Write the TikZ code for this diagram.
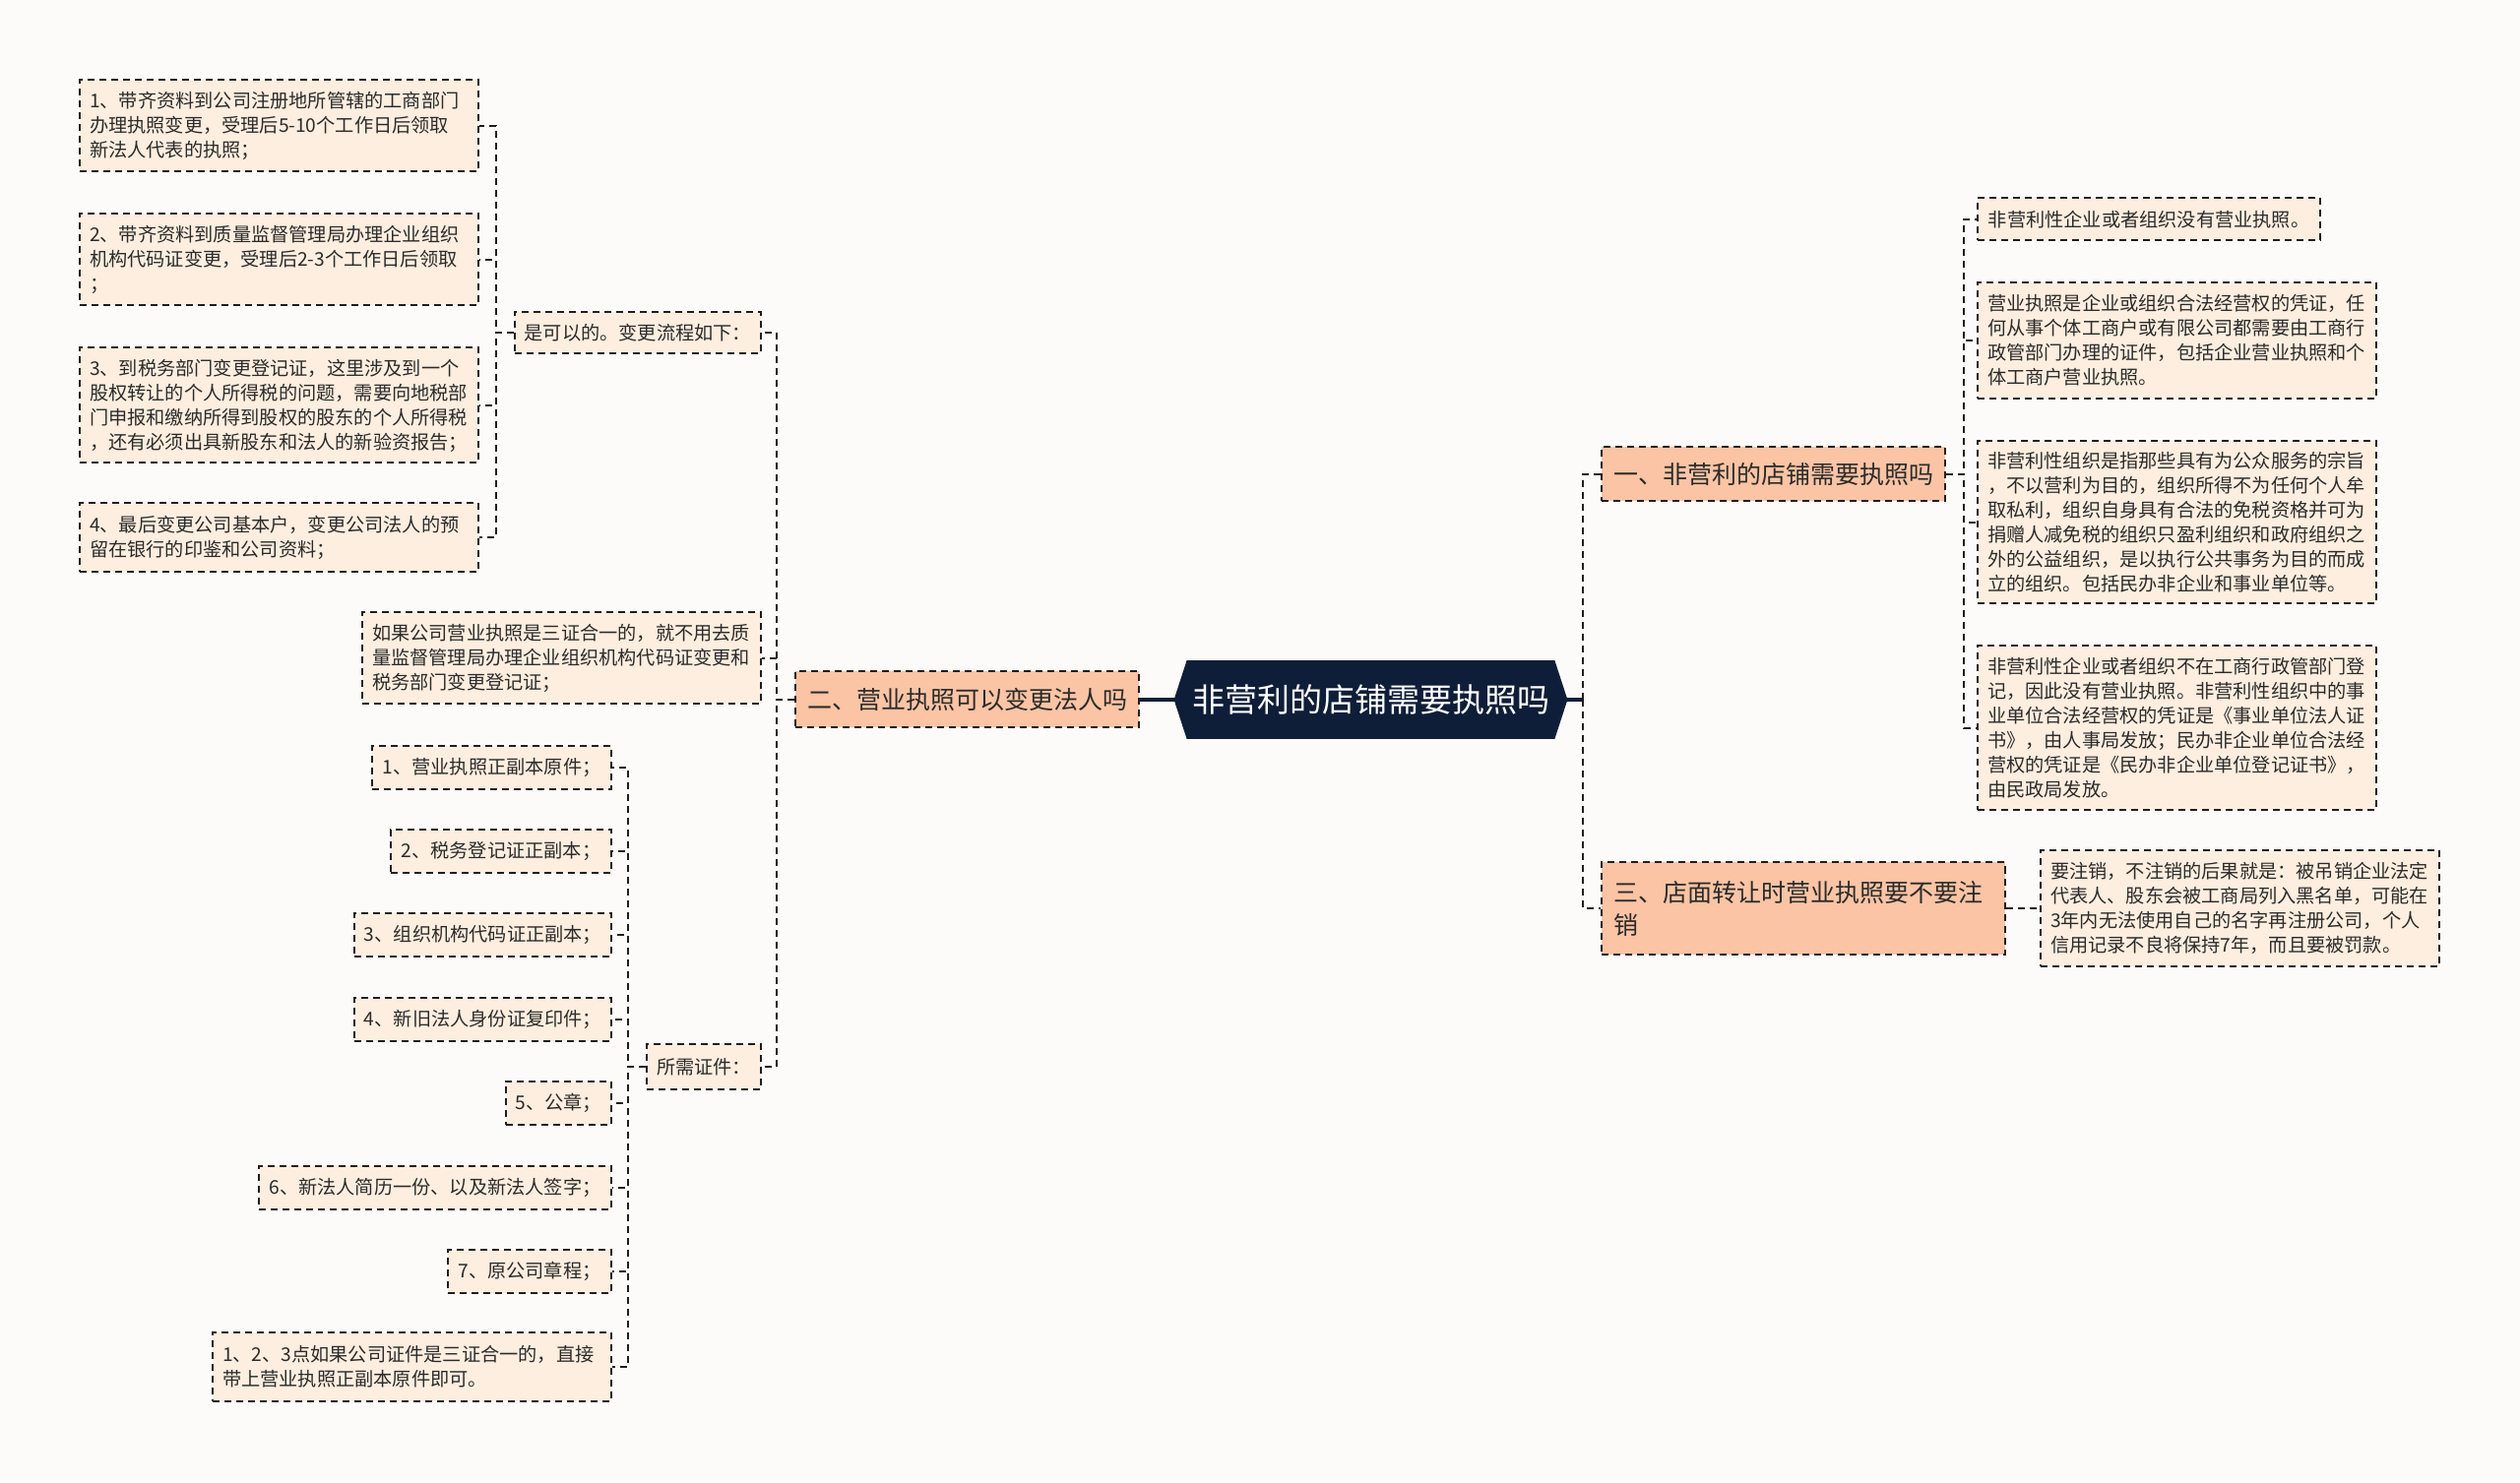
\documentclass[tikz,border=0pt]{standalone}
\usepackage{fontspec}
\setmainfont{Noto Sans CJK SC}
\usetikzlibrary{backgrounds}
\definecolor{bgcol}{HTML}{FDFBFA}
\definecolor{leaffill}{HTML}{FDEEDF}
\definecolor{branchfill}{HTML}{FBC4A4}
\definecolor{rootfill}{HTML}{0F1E38}
\definecolor{linecol}{HTML}{1E1E1E}
\definecolor{txtcol}{HTML}{2B2B2B}
\tikzset{
  leaf/.style={draw=linecol, line width=1pt, dash pattern=on 3.5pt off 2.5pt, fill=leaffill,
    inner xsep=5pt, inner ysep=0pt, align=left, text=txtcol, font=\fontsize{9.6}{12.5}\selectfont},
  branch/.style={leaf, fill=branchfill, inner xsep=6pt, font=\fontsize{12.5}{16.5}\selectfont},
  link/.style={draw=linecol, line width=1pt, dash pattern=on 3.5pt off 2.5pt},
  rootlink/.style={draw=rootfill, line width=1.6pt},
}
\begin{document}
\begin{tikzpicture}[x=0.5pt, y=-0.5pt]
\useasboundingbox (0,0) rectangle (2560,1507);
\begin{scope}[on background layer]
  \fill[bgcol] (0,0) rectangle (2560,1507);
\end{scope}
% root
\node[text=white, font=\fontsize{16.5}{20}\selectfont, minimum width=199.5pt, minimum height=39.5pt, inner sep=0pt] (root) at (1392.5,711) {非营利的店铺需要执照吗};
\begin{scope}[on background layer]
  \fill[rootfill] (root.west) -- ([xshift=6.5pt]root.north west) -- ([xshift=-6.5pt]root.north east) -- (root.east)
    -- ([xshift=-6.5pt]root.south east) -- ([xshift=6.5pt]root.south west) -- cycle;
\end{scope}
% branches
\node[branch, anchor=west, minimum width=173pt, minimum height=27.5pt] (b1) at (1626,482) {一、非营利的店铺需要执照吗};
\node[branch, anchor=east, minimum width=174pt, minimum height=28.5pt] (b2) at (1158,711) {二、营业执照可以变更法人吗};
\node[branch, anchor=west, text width=193pt, minimum height=46.5pt] (b3) at (1626,923) {三、店面转让时营业执照要不要注\\销};
% right leaves
\node[leaf, anchor=west, minimum width=174pt, minimum height=21.5pt] (r1) at (2008,223) {非营利性企业或者组织没有营业执照。};
\node[leaf, anchor=west, text width=192.5pt, minimum height=59pt] (r2) at (2008,346) {营业执照是企业或组织合法经营权的凭证，任\\何从事个体工商户或有限公司都需要由工商行\\政管部门办理的证件，包括企业营业执照和个\\体工商户营业执照。};
\node[leaf, anchor=west, text width=192.5pt, minimum height=82.5pt] (r3) at (2008,531) {非营利性组织是指那些具有为公众服务的宗旨\\，不以营利为目的，组织所得不为任何个人牟\\取私利，组织自身具有合法的免税资格并可为\\捐赠人减免税的组织只盈利组织和政府组织之\\外的公益组织，是以执行公共事务为目的而成\\立的组织。包括民办非企业和事业单位等。};
\node[leaf, anchor=west, text width=192.5pt, minimum height=83.5pt] (r4) at (2008,740) {非营利性企业或者组织不在工商行政管部门登\\记，因此没有营业执照。非营利性组织中的事\\业单位合法经营权的凭证是《事业单位法人证\\书》，由人事局发放；民办非企业单位合法经\\营权的凭证是《民办非企业单位登记证书》，\\由民政局发放。};
\node[leaf, anchor=west, text width=192.5pt, minimum height=59pt] (r5) at (2072,923) {要注销，不注销的后果就是：被吊销企业法定\\代表人、股东会被工商局列入黑名单，可能在\\3年内无法使用自己的名字再注册公司，个人\\信用记录不良将保持7年，而且要被罚款。};
% left leaves
\node[leaf, anchor=east, minimum width=125pt, minimum height=21pt] (yes) at (774,338) {是可以的。变更流程如下：};
\node[leaf, anchor=east, text width=192.5pt, minimum height=46.5pt] (ifthree) at (774,669) {如果公司营业执照是三证合一的，就不用去质\\量监督管理局办理企业组织机构代码证变更和\\税务部门变更登记证；};
\node[leaf, anchor=east, minimum width=58pt, minimum height=23pt] (need) at (774,1084) {所需证件：};
\foreach \i/\y/\h/\txt in {
  1/128/46.5/{1、带齐资料到公司注册地所管辖的工商部门\\办理执照变更，受理后5-10个工作日后领取\\新法人代表的执照；},
  2/264/46.5/{2、带齐资料到质量监督管理局办理企业组织\\机构代码证变更，受理后2-3个工作日后领取\\；},
  3/412/58.5/{3、到税务部门变更登记证，这里涉及到一个\\股权转让的个人所得税的问题，需要向地税部\\门申报和缴纳所得到股权的股东的个人所得税\\，还有必须出具新股东和法人的新验资报告；},
  4/546/35/{4、最后变更公司基本户，变更公司法人的预\\留在银行的印鉴和公司资料；}} {
  \node[leaf, anchor=east, text width=192.5pt, minimum height=\h pt] (step\i) at (487,\y) {\txt};
  \draw[link] (yes.west) -- ++(-18,0) |- (step\i.east);
}
\foreach \i/\y/\w/\txt in {
  1/780/121.5/{1、营业执照正副本原件；},
  2/865/112/{2、税务登记证正副本；},
  3/950/130.5/{3、组织机构代码证正副本；},
  4/1036/130.5/{4、新旧法人身份证复印件；},
  5/1121/53/{5、公章；},
  6/1207/179/{6、新法人简历一份、以及新法人签字；},
  7/1292/83/{7、原公司章程；}} {
  \node[leaf, anchor=east, minimum width=\w pt, minimum height=22pt] (item\i) at (622,\y) {\txt};
}
\node[leaf, anchor=east, text width=192.5pt, minimum height=35pt] (item8) at (622,1389) {1、2、3点如果公司证件是三证合一的，直接\\带上营业执照正副本原件即可。};
% connectors
\draw[rootlink] (b2.east) -- (root.west);
\draw[rootlink] (root.east) -- ++(16,0) coordinate (rbus);
\foreach \n in {b1,b3} \draw[link] (rbus) |- (\n.west);
\foreach \n in {r1,r2,r3,r4} \draw[link] (b1.east) -- ++(18,0) |- (\n.west);
\draw[link] (b3.east) -- (r5.west);
\foreach \n in {yes,ifthree,need} \draw[link] (b2.west) -- ++(-18,0) |- (\n.east);
\foreach \i in {1,...,8} \draw[link] (need.west) -- ++(-18,0) |- (item\i.east);
\end{tikzpicture}
\end{document}
